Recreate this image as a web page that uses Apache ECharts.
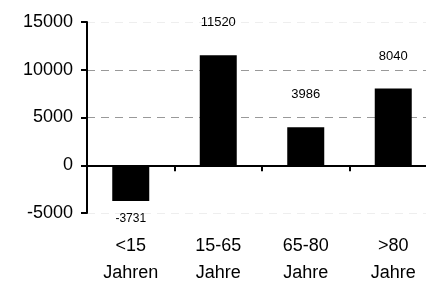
<!DOCTYPE html>
<html>
<head>
<meta charset="utf-8">
<script src="https://cdn.jsdelivr.net/npm/echarts@6/dist/echarts.min.js"></script>
<style>
  html, body { margin: 0; padding: 0; background: #fff; }
  #chart { width: 426px; height: 282px; }
</style>
</head>
<body>
<div id="chart"></div>
<script>
let categories = ["<15\nJahren", "15-65\nJahre", "65-80\nJahre", ">80\nJahre"];
let values = [-3731, 11520, 3986, 8040];
let yTicks = [-5000, 0, 5000, 10000, 15000];

let chart = echarts.init(document.getElementById("chart"));
let font = "Liberation Sans, Arial, sans-serif";

let option = {
  animation: false,
  grid: { left: 87, top: 22, bottom: 69, right: -11, containLabel: false, outerBoundsMode: "none" },
  xAxis: {
    type: "category",
    data: categories,
    axisLine: { lineStyle: { color: "#000", width: 2 } },
    axisTick: { show: true, length: 6, lineStyle: { color: "#000", width: 2 } },
    axisLabel: {
      color: "#000",
      fontFamily: font,
      fontSize: 18,
      lineHeight: 27,
      margin: 20,
      interval: 0,
    },
  },
  yAxis: {
    type: "value",
    min: yTicks[0],
    max: yTicks[yTicks.length - 1],
    interval: 5000,
    axisLine: { show: true, lineStyle: { color: "#000", width: 2 } },
    axisTick: { show: true, length: 6, lineStyle: { color: "#000", width: 2 } },
    axisLabel: {
      color: "#000",
      fontFamily: font,
      fontSize: 18,
      margin: 14,
      formatter: (v) => String(v),
    },
    splitLine: {
      lineStyle: {
        type: [8, 6],
        color: ["#eeeeee", "#ffffff", "#999999", "#999999", "#eeeeee"],
      },
    },
  },
  series: [
    {
      type: "bar",
      barWidth: 37,
      itemStyle: { color: "#000" },
      data: values.map((v) => ({
        value: v,
        label: {
          show: true,
          position: v < 0 ? "bottom" : "top",
          distance: v < 0 ? 12 : 26,
          color: "#000",
          fontFamily: font,
          fontSize: v < 0 ? 12 : 13,
        },
      })),
    },
  ],
};
chart.setOption(option);
</script>
</body>
</html>
